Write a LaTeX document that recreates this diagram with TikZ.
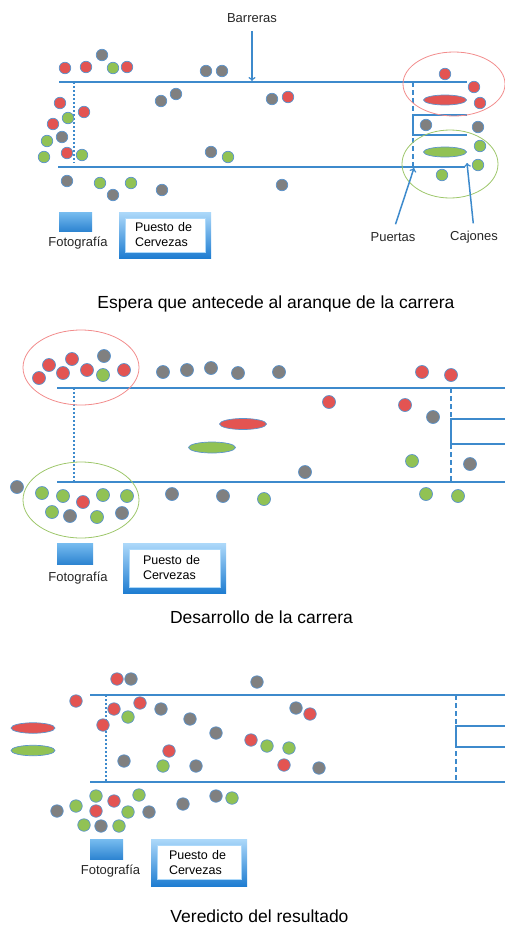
\documentclass[tikz,border=0pt]{standalone}
\usepackage{fontspec}
\setmainfont{Liberation Sans}
\usepackage{xcolor}
\usepackage{tikz}
\usetikzlibrary{shapes, arrows, positioning, calc}
\definecolor{trackblue}{rgb}{0.24, 0.54, 0.80}
\definecolor{dotedge}{rgb}{0.36, 0.58, 0.80}
\definecolor{hred}{rgb}{0.89, 0.33, 0.32}
\definecolor{hgreen}{rgb}{0.57, 0.76, 0.33}
\definecolor{hgray}{rgb}{0.50, 0.50, 0.50}
\definecolor{ringred}{rgb}{0.95, 0.55, 0.55}
\definecolor{ringgreen}{rgb}{0.62, 0.78, 0.42}
\definecolor{photolight}{rgb}{0.47, 0.74, 0.94}
\definecolor{photodark}{rgb}{0.18, 0.52, 0.82}
\definecolor{boxlight}{rgb}{0.68, 0.85, 0.98}
\definecolor{boxdark}{rgb}{0.12, 0.49, 0.82}

\begin{document}
\begin{tikzpicture}[x=1pt, y=-1pt]
		\tikzstyle{horse}=[circle, draw=dotedge, line width=0.7pt, inner sep=0pt, minimum size=12pt]
		\tikzstyle{oval}=[ellipse, draw=dotedge, line width=0.7pt, inner sep=0pt]
		\tikzstyle{ring}=[ellipse, line width=0.8pt, inner sep=0pt]
		\tikzstyle{track}=[draw=trackblue, line width=1.5pt]
		\tikzstyle{photo}=[rectangle, inner sep=0pt, top color=photolight, bottom color=photodark]
		\tikzstyle{beerframe}=[rectangle, inner sep=0pt, top color=boxlight, bottom color=boxdark]
		\tikzstyle{beerin}=[rectangle, fill=white, draw=boxlight, thin, inner xsep=12pt, inner ysep=0pt, align=left, font=\fontsize{12.5}{15}\selectfont]
		\tikzstyle{lbl}=[inner sep=0pt, anchor=base, font=\fontsize{13}{15}\selectfont, text=black!85]
		\tikzstyle{caption}=[inner sep=0pt, anchor=base, font=\fontsize{17.5}{20}\selectfont]
		\tikzstyle{pointer}=[->, draw=trackblue, line width=1.5pt]
		
		\useasboundingbox (0,0) rectangle (505,926);
		
		%% espera
		\draw[track] (59,82) -- (467,82);
		\draw[track] (58,167) -- (465,167);
		\draw[track] (467,115) -- (413,115) -- (413,135) -- (467,135);
		\draw[trackblue, line width=1.3pt, dash pattern=on 1.5pt off 2.5pt] (74,82) -- (74,163);
		\draw[trackblue, line width=1.3pt, dash pattern=on 5pt off 3pt] (413,82) -- (413,168);
		
		\foreach \x/\y/\c [count=\i] in {65/68/hred, 86/67/hred, 102/55/hgray, 113/68/hgreen, 127/67/hred,
			206/71/hgray, 222/71/hgray, 60/103/hred, 84/112/hred, 68/118/hgreen, 53/124/hred,
			47/141/hgreen, 62/137/hgray, 44/157/hgreen, 67/153/hred, 82/155/hgreen,
			161/101/hgray, 176/94/hgray, 211/152/hgray, 228/157/hgreen, 272/99/hgray, 288/97/hred,
			67/181/hgray, 100/183/hgreen, 131/183/hgreen, 113/195/hgray, 162/190/hgray, 282/185/hgray,
			445/74/hred, 474/87/hred, 480/103/hred, 426/125/hgray, 478/127/hgray,
			480/146/hgreen, 478/165/hgreen, 442/175/hgreen}
			\node[horse, fill=\c, minimum size=11.5pt] (a\i) at (\x,\y) {};
		
		\node[oval, fill=hred, minimum width=43pt, minimum height=10pt] (O1) at (445,100) {};
		\node[oval, fill=hgreen, minimum width=43pt, minimum height=10pt] (O2) at (445,152) {};
		\node[ring, draw=ringred, minimum width=102pt, minimum height=64pt] (E1) at (454,84) {};
		\node[ring, draw=ringgreen, minimum width=96pt, minimum height=68pt] (E2) at (450,164) {};
		
		\node[lbl] (Ba) at (252,23) {Barreras};
		\node[lbl] (Pu) at (393,241) {Puertas};
		\node[lbl] (Ca) at (474,240) {Cajones};
		\coordinate (bar1) at (252,81);
		\coordinate (gate1) at (414,168);
		\coordinate (box1) at (467,163);
		\draw[pointer, shorten <=8pt] (Ba.south) -- (bar1);
		\draw[pointer, shorten <=8pt] (Pu.north) -- (gate1);
		\draw[pointer, shorten <=7pt] (Ca.north) -- (box1);
		
		\node[photo, minimum width=33pt, minimum height=19pt] (F1) at (75.5,221.5) {};
		\node[lbl] (f1) at (78,246) {Fotografía};
		\node[beerframe, minimum width=92pt, minimum height=46pt] (P1) at (165,235) {};
		\node[beerin, minimum width=80pt, minimum height=34pt, inner xsep=10pt, text width=60pt] (Q1) at (P1.center) {Puesto de\\Cervezas};
		\node[caption] (T1) at (276,308) {Espera que antecede al aranque de la carrera};
		
		%% desarrollo
		\draw[track] (57,388) -- (505,388);
		\draw[track] (57,482) -- (505,482);
		\draw[track] (505,419) -- (451,419) -- (451,444) -- (505,444);
		\draw[trackblue, line width=1.3pt, dash pattern=on 1.5pt off 2.5pt] (74,388) -- (74,482);
		\draw[trackblue, line width=1.3pt, dash pattern=on 5pt off 3pt] (451,388) -- (451,482);
		
		\node[ring, draw=ringred, minimum width=116pt, minimum height=75pt] (E3) at (81,367.5) {};
		\node[ring, draw=ringgreen, minimum width=116pt, minimum height=76pt] (E4) at (81,500) {};
		
		\foreach \x/\y/\c [count=\i] in {39/378/hred, 49/365/hred, 72/359/hred, 63/373/hred, 104/356/hgray,
			87/370/hred, 103/375/hgreen, 124/370/hred, 163/372/hgray, 187/370/hgray, 211/368/hgray,
			238/373/hgray, 279/372/hgray, 422/372/hred, 451/375/hred, 329/402/hred, 405/405/hred,
			433/417/hgray, 412/461/hgreen, 470/464/hgray, 305/472/hgray,
			17/487/hgray, 42/493/hgreen, 63/496/hgreen, 83/502/hred, 103/495/hgreen, 127/496/hgreen,
			52/512/hgreen, 70/516/hgray, 97/517/hgreen, 122/513/hgray, 172/494/hgray, 223/496/hgray,
			264/499/hgreen, 426/494/hgreen, 458/496/hgreen}
			\node[horse, fill=\c, minimum size=13pt] (b\i) at (\x,\y) {};
		
		\node[oval, fill=hred, minimum width=47pt, minimum height=11pt] (O3) at (243,424) {};
		\node[oval, fill=hgreen, minimum width=47pt, minimum height=11pt] (O4) at (212,447.5) {};
		
		\node[photo, minimum width=36pt, minimum height=21pt] (F2) at (75,553.5) {};
		\node[lbl] (f2) at (78,581) {Fotografía};
		\node[beerframe, minimum width=103pt, minimum height=50pt] (P2) at (174.5,568) {};
		\node[beerin, minimum width=91pt, minimum height=38pt, inner xsep=14pt, text width=63pt] (Q2) at (P2.center) {Puesto de\\Cervezas};
		\node[caption] (T2) at (261.5,623) {Desarrollo de la carrera};
		
		%% veredicto
		\draw[track] (90,695) -- (505,695);
		\draw[track] (90,782) -- (505,782);
		\draw[track] (505,726) -- (456,726) -- (456,747) -- (505,747);
		\draw[trackblue, line width=1.3pt, dash pattern=on 1.5pt off 2.5pt] (106,695) -- (106,783);
		\draw[trackblue, line width=1.3pt, dash pattern=on 5pt off 3pt] (456,695) -- (456,782);
		
		\foreach \x/\y/\c [count=\i] in {117/679/hred, 131/679/hgray, 257/682/hgray,
			76/701/hred, 114/709/hred, 140/703/hred, 161/709/hgray, 128/717/hgreen, 103/725/hred,
			190/719/hgray, 216/733/hgray, 251/740/hred, 169/751/hred, 124/761/hgray, 163/766/hgreen,
			196/766/hgray, 296/708/hgray, 310/714/hred, 267/746/hgreen, 289/748/hgreen, 284/765/hred,
			319/768/hgray, 96/796/hgreen, 114/801/hred, 139/795/hgreen, 57/811/hgray, 76/806/hgreen,
			96/811/hred, 128/812/hgreen, 149/812/hgray, 183/804/hgray, 216/796/hgray, 232/798/hgreen,
			84/825/hgreen, 101/826/hgray, 119/826/hgreen}
			\node[horse, fill=\c, minimum size=12.5pt] (c\i) at (\x,\y) {};
		
		\node[oval, fill=hred, minimum width=44pt, minimum height=10.5pt] (O5) at (33,728) {};
		\node[oval, fill=hgreen, minimum width=44pt, minimum height=10.5pt] (O6) at (33,750.5) {};
		
		\node[photo, minimum width=33pt, minimum height=20pt] (F3) at (106.5,849) {};
		\node[lbl] (f3) at (110.5,874) {Fotografía};
		\node[beerframe, minimum width=96pt, minimum height=47pt] (P3) at (199,862.5) {};
		\node[beerin, minimum width=84pt, minimum height=34pt, text width=60pt] (Q3) at (P3.center) {Puesto de\\Cervezas};
		\node[caption] (T3) at (259.5,922) {Veredicto del resultado};
\end{tikzpicture}
\end{document}
